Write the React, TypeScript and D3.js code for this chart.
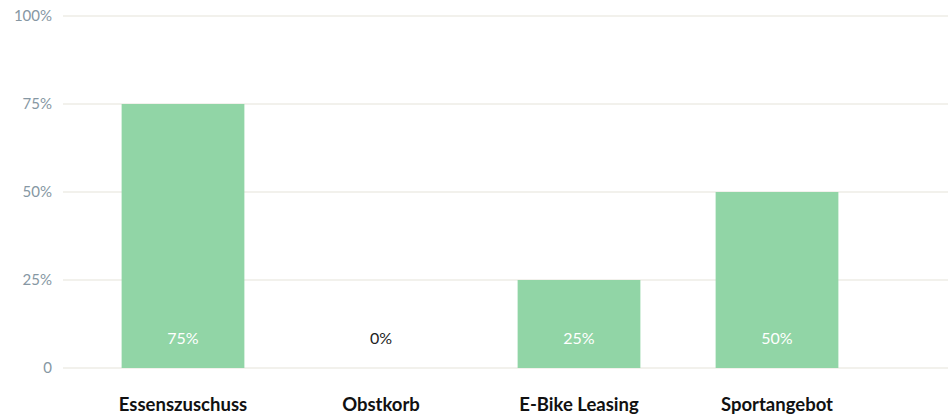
import React from "react";
import * as d3 from "d3";

const categories = ["Essenszuschuss", "Obstkorb", "E-Bike Leasing", "Sportangebot"];
const values = [75, 0, 25, 50];
const yTicks = [0, 25, 50, 75, 100];
const tickLabels = ["0", "25%", "50%", "75%", "100%"];

export default function App() {
  const W = 948, H = 415;
  const x = d3.scaleBand<string>().domain(categories).range([84, 876]).paddingInner(0.38).paddingOuter(0.19);
  const y = d3.scaleLinear().domain([0, 100]).range([368, 16]);
  return (
    <svg width={W} height={H} style={{ position: "absolute", left: 0, top: 0, fontFamily: "Lato" }}>
      {yTicks.map((t, i) => (
        <g key={t}>
          <line x1={63} x2={948} y1={y(t)} y2={y(t)} stroke="#f2f1ec" strokeWidth={2} />
          <text x={52} y={y(t)} dy="0.35em" textAnchor="end" fontSize={15} fill="#8697a3">{tickLabels[i]}</text>
        </g>
      ))}
      {categories.map((c, i) => (
        <g key={c}>
          {values[i] > 0 && (
            <rect x={x(c)} y={y(values[i])} width={x.bandwidth()} height={y(0) - y(values[i])} fill="#91d5a6" />
          )}
          <text x={(x(c) as number) + x.bandwidth() / 2} y={344} textAnchor="middle" fontSize={16}
            fill={values[i] > 0 ? "#ffffff" : "#222222"}>{values[i] + "%"}</text>
          <text x={(x(c) as number) + x.bandwidth() / 2} y={411} textAnchor="middle" fontSize={18.5}
            fontWeight="bold" fill="#111111">{c}</text>
        </g>
      ))}
    </svg>
  );
}
